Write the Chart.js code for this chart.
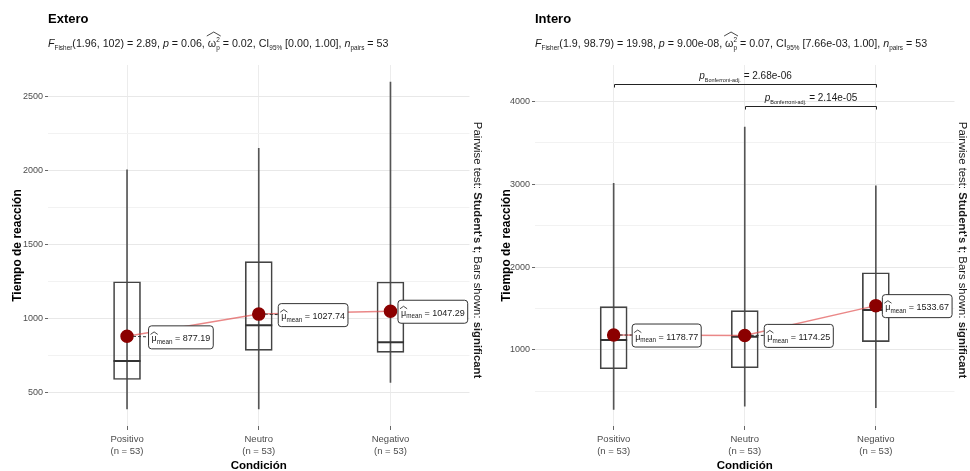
<!DOCTYPE html>
<html>
<head>
<meta charset="utf-8">
<script src="https://cdn.jsdelivr.net/npm/chart.js@4.4.1/dist/chart.umd.min.js"></script>
<style>
  body { margin: 0; background: #fff; width: 970px; height: 471px; overflow: hidden; }
  canvas { position: absolute; top: 0; }
  #extero { left: 0; }
  #intero { left: 485px; }
</style>
</head>
<body>
<canvas id="extero" width="485" height="471"></canvas>
<canvas id="intero" width="485" height="471"></canvas>
<script>
// Categorías y datos
const categories = ['Positivo', 'Neutro', 'Negativo'];
const nLabels = ['(n = 53)', '(n = 53)', '(n = 53)'];

// Extero
const exMin = [385, 385, 565];
const exQ1 = [585, 782, 769];
const exMedian = [710, 952, 837];
const exQ3 = [1247, 1383, 1245];
const exMax = [2005, 2150, 2600];
const exMean = [877.19, 1027.74, 1047.29];
const exMajorTicks = [500, 1000, 1500, 2000, 2500];
const exMinorTicks = [750, 1250, 1750, 2250];
const exStats = ['1.96', '102', '2.89', '0.06', '0.02', '0.00', '1.00', '53'];

// Intero
const inMin = [280, 320, 300];
const inQ1 = [771, 783, 1100];
const inMedian = [1120, 1157, 1480];
const inQ3 = [1522, 1473, 1931];
const inMax = [3010, 3690, 2980];
const inMean = [1178.77, 1174.25, 1533.67];
const inMajorTicks = [1000, 2000, 3000, 4000];
const inMinorTicks = [500, 1500, 2500, 3500];
const inStats = ['1.9', '98.79', '19.98', '9.00e-08', '0.07', '7.66e-03', '1.00', '53'];
const inBracketFrom = [0, 1];
const inBracketTo = [2, 2];
const inBracketY = [4210, 3950];
const inBracketP = ['2.68e-06', '2.14e-05'];

const FAMILY = '"Liberation Sans", Arial, sans-serif';

// --- texto con subíndices / superíndices ---
function fontFor(style, size, subR) {
  const small = style === 'sub' || style === 'sup' || style === 'stack';
  const sz = small ? size * subR : size;
  return (style === 'i' ? 'italic ' : style === 'b' ? 'bold ' : '') + sz + 'px ' + FAMILY;
}
function segWidth(ctx, s, size, subR) {
  ctx.font = fontFor(s[1], size, subR);
  if (s[1] === 'stack') return Math.max(...s[0].split('|').map(t => ctx.measureText(t).width));
  return ctx.measureText(s[0]).width;
}
function richWidth(ctx, segs, size, subR = 0.6) {
  return segs.reduce((a, s) => a + segWidth(ctx, s, size, subR), 0);
}
function drawRich(ctx, segs, x, y, size, align, subR = 0.6) {
  const widths = segs.map(s => segWidth(ctx, s, size, subR));
  const total = widths.reduce((a, b) => a + b, 0);
  let cx = align === 'center' ? x - total / 2 : x;
  ctx.textAlign = 'left';
  ctx.textBaseline = 'alphabetic';
  segs.forEach((s, k) => {
    const st = s[1];
    ctx.font = fontFor(st, size, subR);
    if (st === 'stack') {
      const [top, bot] = s[0].split('|');
      ctx.fillText(top, cx, y - size * 0.45);
      ctx.fillText(bot, cx, y + size * 0.3);
    } else if (st === 'sub') {
      ctx.fillText(s[0], cx, y + size * 0.3);
    } else if (st === 'sup') {
      ctx.fillText(s[0], cx, y - size * 0.45);
    } else {
      ctx.fillText(s[0], cx, y);
      if (st === 'hat') {
        const next = segs[k + 1] && segs[k + 1][1] === 'stack';
        const span = widths[k] + (next ? widths[k + 1] : 0);
        const top = next ? y - size * 1.4 : y - size * 1.05;
        const hh = next ? 4 : 2.5;
        ctx.save();
        ctx.lineWidth = 0.8;
        ctx.strokeStyle = ctx.fillStyle;
        ctx.beginPath();
        ctx.moveTo(cx - 1, top + hh);
        ctx.lineTo(cx + span / 2, top);
        ctx.lineTo(cx + span + 1, top + hh);
        ctx.stroke();
        ctx.restore();
      }
    }
    cx += widths[k];
  });
  return total;
}
function statSegs(s) {
  return [['F', 'i'], ['Fisher', 'sub'], ['(' + s[0] + ', ' + s[1] + ') = ' + s[2] + ', ', ''],
    ['p', 'i'], [' = ' + s[3] + ', ', ''], ['ω', 'hat'], ['2|p', 'stack'],
    [' = ' + s[4] + ', CI', ''], ['95%', 'sub'], [' [' + s[5] + ', ' + s[6] + '], ', ''],
    ['n', 'i'], ['pairs', 'sub'], [' = ' + s[7], '']];
}
function roundRect(ctx, x, y, w, h, r) {
  ctx.beginPath();
  ctx.moveTo(x + r, y);
  ctx.arcTo(x + w, y, x + w, y + h, r);
  ctx.arcTo(x + w, y + h, x, y + h, r);
  ctx.arcTo(x, y + h, x, y, r);
  ctx.arcTo(x, y, x + w, y, r);
  ctx.closePath();
}

function makeChart(id, d) {
  const pts = arr => arr.map((v, i) => ({ x: i, y: v }));
  const range = (a, b) => a.map((v, i) => ({ x: i, y: [v, b[i]] }));
  const allTicks = d.major.concat(d.minor).sort((a, b) => a - b);
  const isMajor = v => d.major.includes(v);

  const annot = {
    id: 'annot_' + id,
    afterDatasetsDraw(chart) {
      const { ctx, scales: { x, y } } = chart;
      ctx.save();
      // etiquetas de la media
      d.mean.forEach((m, i) => {
        const px = x.getPixelForValue(i), py = y.getPixelForValue(m);
        const segs = [['μ', 'hat'], ['mean', 'sub'], [' = ' + m.toFixed(2), '']];
        const w = richWidth(ctx, segs, 9, 0.7) + 6, h = 23;
        const lx = px + d.labelDx[i], cy = py + d.labelDy[i];
        if (d.labelDx[i] > 10) {
          ctx.strokeStyle = '#333';
          ctx.lineWidth = 1;
          ctx.setLineDash([3, 2]);
          ctx.beginPath();
          ctx.moveTo(px + 6, py);
          ctx.lineTo(lx, cy);
          ctx.stroke();
          ctx.setLineDash([]);
        }
        roundRect(ctx, lx + 0.5, cy - h / 2 + 0.5, w, h, 3);
        ctx.fillStyle = '#fff';
        ctx.fill();
        ctx.strokeStyle = '#333';
        ctx.lineWidth = 1;
        ctx.stroke();
        ctx.fillStyle = '#1a1a1a';
        drawRich(ctx, segs, lx + 3.5, cy + 4.5, 9, 'left', 0.7);
      });
      // barras de comparación
      (d.brFrom || []).forEach((f, k) => {
        const x1 = Math.round(x.getPixelForValue(f)) + 0.5;
        const x2 = Math.round(x.getPixelForValue(d.brTo[k])) + 0.5;
        const by = Math.round(y.getPixelForValue(d.brY[k])) + 0.5;
        ctx.strokeStyle = '#222';
        ctx.lineWidth = 1;
        ctx.beginPath();
        ctx.moveTo(x1, by + 3);
        ctx.lineTo(x1, by);
        ctx.lineTo(x2, by);
        ctx.lineTo(x2, by + 3);
        ctx.stroke();
        ctx.fillStyle = '#1a1a1a';
        drawRich(ctx, [['p', 'i'], ['Bonferroni-adj.', 'sub'], [' = ' + d.brP[k], '']],
          (x1 + x2) / 2, by - 6, 10, 'center', 0.55);
      });
      ctx.restore();
    },
    afterDraw(chart) {
      const { ctx, chartArea: a } = chart;
      ctx.save();
      ctx.fillStyle = '#000';
      ctx.font = 'bold 13px ' + FAMILY;
      ctx.textAlign = 'left';
      ctx.textBaseline = 'alphabetic';
      ctx.fillText(d.title, a.left, 23);
      ctx.fillStyle = '#1a1a1a';
      drawRich(ctx, statSegs(d.stats), a.left, 47, 10.7, 'left');

      // títulos de ejes
      ctx.fillStyle = '#000';
      ctx.font = 'bold 12px ' + FAMILY;
      ctx.textAlign = 'center';
      ctx.textBaseline = 'middle';
      ctx.save();
      ctx.translate(d.yTitleX, (a.top + a.bottom) / 2);
      ctx.rotate(-Math.PI / 2);
      ctx.fillText('Tiempo de reacción', 0, 0);
      ctx.restore();
      ctx.font = 'bold 11.5px ' + FAMILY;
      ctx.textBaseline = 'alphabetic';
      ctx.fillText('Condición', (a.left + a.right) / 2, 469);

      // nota lateral
      ctx.save();
      ctx.translate(a.right + 8, 250);
      ctx.rotate(Math.PI / 2);
      ctx.fillStyle = '#1a1a1a';
      drawRich(ctx, [['Pairwise test: ', ''], ["Student's t", 'b'], ['; Bars shown: ', ''], ['significant', 'b']],
        0, 4, 11.3, 'center');
      ctx.restore();
      ctx.restore();
    }
  };

  return new Chart(document.getElementById(id), {
    type: 'bar',
    data: {
      datasets: [
        {
          type: 'line', data: pts(d.mean), order: 0,
          borderColor: 'rgba(222,70,70,0.65)', borderWidth: 1.5, tension: 0,
          pointRadius: 6, pointHoverRadius: 6,
          pointBackgroundColor: '#8b0000', pointBorderColor: '#8b0000'
        },
        {
          type: 'line', data: pts(d.median), order: 1, showLine: false,
          pointStyle: 'line', pointRadius: 13.5, pointHoverRadius: 13.5,
          borderColor: '#333', pointBorderColor: '#333', pointBorderWidth: 2
        },
        {
          data: range(d.q1, d.q3), order: 2, grouped: false, barThickness: 27,
          backgroundColor: 'rgba(255,255,255,0)', borderColor: '#444', borderWidth: 1, borderSkipped: false
        },
        {
          data: range(d.min, d.max), order: 3, grouped: false, barThickness: 1,
          backgroundColor: '#555'
        }
      ]
    },
    options: {
      responsive: false,
      animation: false,
      devicePixelRatio: 1,
      events: [],
      layout: { padding: { top: 65, right: d.padRight, left: 0, bottom: 0 } },
      plugins: { legend: { display: false }, tooltip: { enabled: false } },
      scales: {
        x: {
          type: 'linear', min: -0.6, max: 2.6, offset: false, bounds: 'data',
          afterBuildTicks: s => { s.ticks = categories.map((c, i) => ({ value: i })); },
          afterFit: s => { s.height = 45; },
          border: { display: false },
          grid: { offset: false, color: '#ececec', tickColor: '#666', tickLength: 4 },
          ticks: {
            callback: v => [categories[v], nLabels[v]],
            color: '#4d4d4d', font: { family: FAMILY, size: 9.5 }, padding: 4,
            maxRotation: 0, autoSkip: false
          }
        },
        y: {
          min: d.yMin, max: d.yMax, bounds: 'data',
          afterBuildTicks: s => { s.ticks = allTicks.map(v => ({ value: v })); },
          afterFit: s => { s.width = d.axisWidth; },
          border: { display: false },
          grid: {
            color: c => (c.tick && isMajor(c.tick.value)) ? '#e8e8e8' : '#f2f2f2',
            tickColor: c => (c.tick && isMajor(c.tick.value)) ? '#666' : 'rgba(0,0,0,0)',
            tickLength: 3
          },
          ticks: {
            callback: v => isMajor(v) ? String(v) : '',
            color: '#4d4d4d', font: { family: FAMILY, size: 9 }, padding: 2, autoSkip: false
          }
        }
      }
    },
    plugins: [annot]
  });
}

makeChart('extero', {
  title: 'Extero', stats: exStats,
  min: exMin, q1: exQ1, median: exMedian, q3: exQ3, max: exMax, mean: exMean,
  major: exMajorTicks, minor: exMinorTicks,
  yMin: 270, yMax: 2715, axisWidth: 48, padRight: 11, yTitleX: 17.5,
  labelDx: [21, 19, 7], labelDy: [0.5, 0.5, 0]
});

makeChart('intero', {
  title: 'Intero', stats: inStats,
  min: inMin, q1: inQ1, median: inMedian, q3: inQ3, max: inMax, mean: inMean,
  major: inMajorTicks, minor: inMinorTicks,
  brFrom: inBracketFrom, brTo: inBracketTo, brY: inBracketY, brP: inBracketP,
  yMin: 80, yMax: 4440, axisWidth: 50, padRight: 8, yTitleX: 21.5,
  labelDx: [18, 19, 6], labelDy: [0, 0, 0]
});
</script>
</body>
</html>
